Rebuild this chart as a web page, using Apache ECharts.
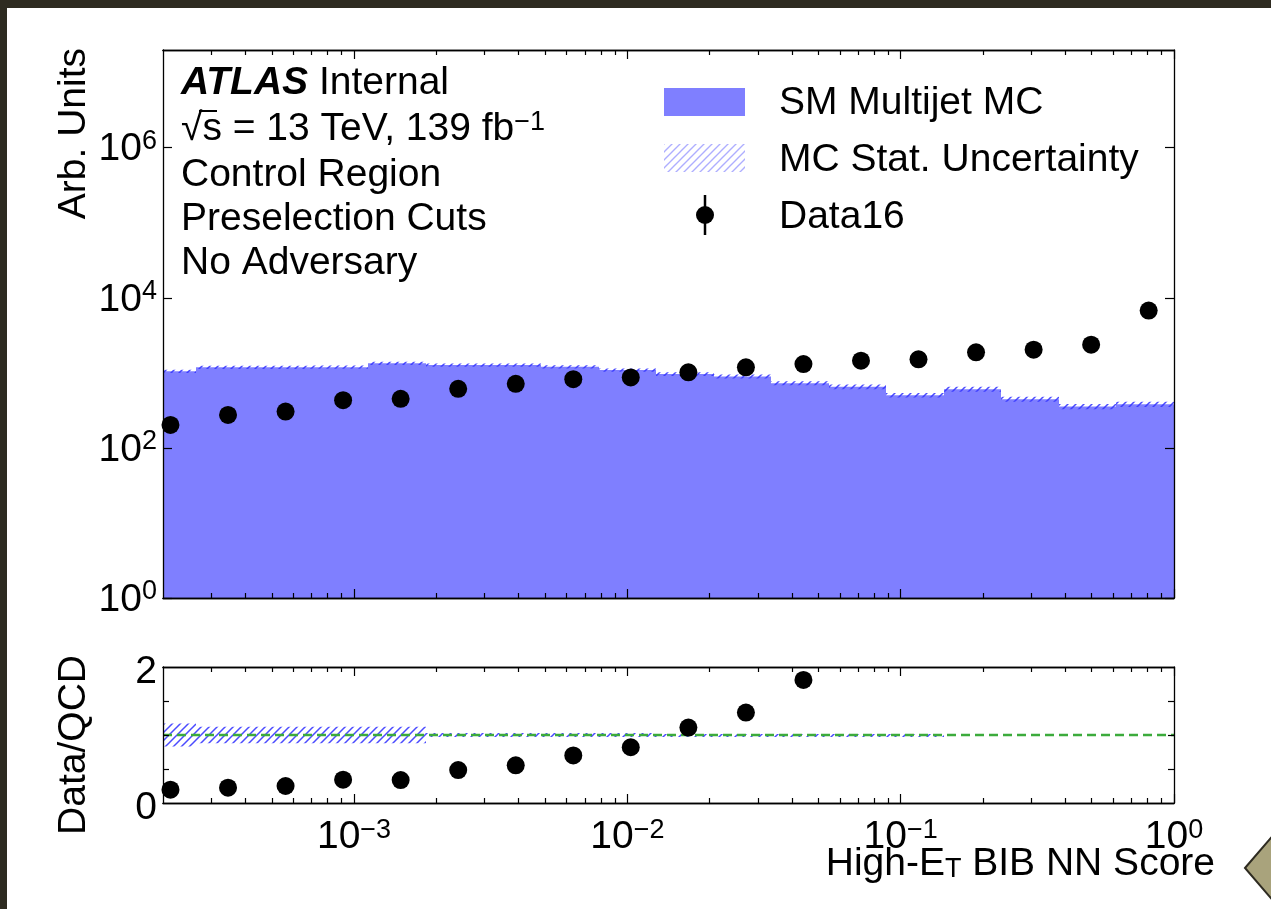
<!DOCTYPE html>
<html><head><meta charset="utf-8">
<script src="https://cdn.jsdelivr.net/npm/echarts@6/dist/echarts.min.js"></script>
<style>
html,body{margin:0;padding:0;background:#2e2b21;overflow:hidden;width:1271px;height:909px}
#paper{position:absolute;left:7px;top:8px;right:0;bottom:0;background:#fff}
#chart{position:absolute;left:0;top:0;width:1271px;height:909px}
</style></head><body><div id="paper"></div><div id="chart"></div>
<script>
// ---------------- data ----------------
const X_MIN = 2e-4, X_MAX = 1;
const Y_MIN = 1, Y_MAX = 2e7;
const binEdges = [1.624e-4, 2.637e-4, 4.281e-4, 6.952e-4, 1.129e-3, 1.833e-3, 2.976e-3, 4.833e-3, 7.848e-3,
  1.274e-2, 2.069e-2, 3.360e-2, 5.456e-2, 8.859e-2, 0.1438, 0.2336, 0.3793, 0.6158, 1.0];
const binCenters = [2.13e-4, 3.459e-4, 5.617e-4, 9.12e-4, 1.481e-3, 2.405e-3, 3.905e-3, 6.341e-3, 1.029e-2,
  1.672e-2, 2.715e-2, 4.408e-2, 7.158e-2, 0.1162, 0.1887, 0.3065, 0.4976, 0.8079];
const mcMultijet = [1046, 1185, 1185, 1190, 1337, 1270, 1270, 1205, 1088, 962, 896, 729, 651, 504, 606, 446, 356, 382];
const mcRelUnc   = [0.05, 0.05, 0.05, 0.05, 0.05, 0.05, 0.05, 0.05, 0.05, 0.06, 0.06, 0.06, 0.07, 0.07, 0.08, 0.08, 0.08, 0.08];
const data16     = [202, 275, 305, 432, 450, 612, 713, 824, 869, 1014, 1183, 1309, 1449, 1514, 1878, 2033, 2373, 6761];
const ratioDataQCD = [0.196, 0.225, 0.25, 0.343, 0.338, 0.485, 0.554, 0.70, 0.82, 1.11, 1.33, 1.81];
const ratioUnc   = [0.17, 0.12, 0.12, 0.12, 0.12, 0.03, 0.03, 0.03, 0.03, 0.015, 0.015, 0.015, 0.015, 0.015, 0, 0, 0, 0];
const xMajorTicks = [1e-3, 1e-2, 1e-1, 1];
const xMinorTicks = [3e-4,4e-4,5e-4,6e-4,7e-4,8e-4,9e-4, 2e-3,3e-3,4e-3,5e-3,6e-3,7e-3,8e-3,9e-3,
  2e-2,3e-2,4e-2,5e-2,6e-2,7e-2,8e-2,9e-2, 0.2,0.3,0.4,0.5,0.6,0.7,0.8,0.9];
const yTopTicks = [1, 1e2, 1e4, 1e6];
const yRatioTicks = [0.5, 1, 1.5];
const yRatioLabels = [0, 2];

// ---------------- style ----------------
const FONT = "'Liberation Sans', Arial, Helvetica, sans-serif";
const FS = 39;
const FS_SUP = 27;
const FILL = '#7f7fff';

function makeHatch(color, step, lw) {
  const c = document.createElement('canvas');
  c.width = step; c.height = step;
  const g = c.getContext('2d');
  g.strokeStyle = color; g.lineWidth = lw; g.lineCap = 'square';
  g.beginPath();
  g.moveTo(-1, step + 1); g.lineTo(step + 1, -1);
  g.moveTo(-step / 2 - 1, step / 2 + 1); g.lineTo(step / 2 + 1, -step / 2 - 1);
  g.moveTo(step / 2 - 1, step * 1.5 + 1); g.lineTo(step * 1.5 + 1, step / 2 - 1);
  g.stroke();
  return c;
}
const hatchPlot = { image: makeHatch('rgba(55,55,255,0.9)', 8, 1.5), repeat: 'repeat' };
const hatchLegend = { image: makeHatch('rgba(120,120,255,0.6)', 8, 1.4), repeat: 'repeat' };

const richLabel = {
  b: { fontSize: FS, lineHeight: 40, fontFamily: FONT, color: '#000' },
  e: { fontSize: FS_SUP, lineHeight: 18, fontFamily: FONT, color: '#000', verticalAlign: 'top' }
};
const richLabelY = {
  b: { fontSize: FS, lineHeight: 40, fontFamily: FONT, color: '#000', padding: [4, 0, 0, 0] },
  e: { fontSize: FS_SUP, lineHeight: 18, fontFamily: FONT, color: '#000', verticalAlign: 'top' }
};
function powLabel(v) {
  const e = Math.round(Math.log10(v));
  const s = e < 0 ? '\u2212' + (-e) : String(e);
  return '{b|10}{e|' + s + '}';
}

function xAx(grid, pos, ticks, len, label) {
  return {
    type: 'log', logBase: 10, gridIndex: grid, position: pos, min: X_MIN, max: X_MAX, z: 6,
    axisLine: { show: true, onZero: false, lineStyle: { color: '#000', width: 1.3 } },
    axisTick: { show: true, inside: true, length: len, customValues: ticks, lineStyle: { color: '#000', width: 1.2 } },
    axisLabel: label || { show: false },
    splitLine: { show: false }, minorTick: { show: false }, minorSplitLine: { show: false }
  };
}

const xAxes = [
  xAx(0, 'bottom', xMajorTicks, 9), xAx(0, 'bottom', xMinorTicks, 5),
  xAx(0, 'top', xMajorTicks, 9), xAx(0, 'top', xMinorTicks, 5),
  xAx(1, 'bottom', xMajorTicks, 9, { show: true, customValues: xMajorTicks, formatter: powLabel, margin: 14, rich: richLabel }),
  xAx(1, 'bottom', xMinorTicks, 5),
  xAx(1, 'top', xMajorTicks, 9), xAx(1, 'top', xMinorTicks, 5)
];

function yAxTop(pos, label) {
  return {
    type: 'log', logBase: 10, gridIndex: 0, position: pos, min: Y_MIN, max: Y_MAX, z: 6,
    axisLine: { show: true, onZero: false, lineStyle: { color: '#000', width: 1.3 } },
    axisTick: { show: true, inside: true, length: 9, customValues: yTopTicks, lineStyle: { color: '#000', width: 1.2 } },
    axisLabel: label || { show: false },
    splitLine: { show: false }
  };
}
function yAxRatio(pos, label) {
  return {
    type: 'value', gridIndex: 1, position: pos, min: 0, max: 2, z: 6,
    axisLine: { show: true, onZero: false, lineStyle: { color: '#000', width: 1.3 } },
    axisTick: { show: true, inside: true, length: 6, customValues: yRatioTicks, lineStyle: { color: '#000', width: 1.2 } },
    axisLabel: label || { show: false },
    splitLine: { show: false }
  };
}
const yAxes = [
  yAxTop('left', { show: true, customValues: yTopTicks, formatter: powLabel, margin: 6, rich: richLabelY }),
  yAxTop('right'),
  yAxRatio('left', { show: true, customValues: yRatioLabels, margin: 6, formatter: v => '{n|' + v + '}',
    rich: { n: { fontSize: FS, lineHeight: 40, fontFamily: FONT, color: '#000', padding: [10, 0, 0, 0] } } }),
  yAxRatio('right')
];

// ---------------- series ----------------
const binData = mcMultijet.map((v, i) => [binEdges[i], binEdges[i + 1], v, mcRelUnc[i]]);
const ratioBandData = ratioUnc.map((u, i) => [binEdges[i], binEdges[i + 1], u]).filter(d => d[2] > 0);

const series = [
  { // MC histogram fill
    type: 'custom', xAxisIndex: 0, yAxisIndex: 0, clip: true, z: 1, silent: true,
    data: binData, encode: { x: [0, 1], y: 2 },
    renderItem: (params, api) => {
      const p0 = api.coord([api.value(0), api.value(2)]);
      const p1 = api.coord([api.value(1), Y_MIN]);
      const x0 = Math.round(p0[0]), x1 = Math.round(p1[0]);
      return { type: 'rect', shape: { x: x0, y: p0[1], width: x1 - x0, height: p1[1] - p0[1] }, style: { fill: FILL } };
    }
  },
  { // MC stat band
    type: 'custom', xAxisIndex: 0, yAxisIndex: 0, clip: true, z: 2, silent: true,
    data: binData, encode: { x: [0, 1], y: 2 },
    renderItem: (params, api) => {
      const v = api.value(2), u = api.value(3);
      const p0 = api.coord([api.value(0), v * (1 + u)]);
      const p1 = api.coord([api.value(1), v * (1 - u)]);
      const x0 = Math.round(p0[0]), x1 = Math.round(p1[0]);
      return { type: 'rect', shape: { x: x0, y: p0[1], width: x1 - x0, height: p1[1] - p0[1] }, style: { fill: hatchPlot } };
    }
  },
  { // data points
    type: 'scatter', xAxisIndex: 0, yAxisIndex: 0, z: 5, silent: true,
    symbol: 'circle', symbolSize: 18, itemStyle: { color: '#000', opacity: 1 },
    data: data16.map((v, i) => [binCenters[i], v])
  },
  { // ratio band
    type: 'custom', xAxisIndex: 4, yAxisIndex: 2, clip: true, z: 2, silent: true,
    data: ratioBandData, encode: { x: [0, 1], y: 2 },
    renderItem: (params, api) => {
      const u = api.value(2);
      const p0 = api.coord([api.value(0), 1 + u]);
      const p1 = api.coord([api.value(1), 1 - u]);
      const x0 = Math.round(p0[0]), x1 = Math.round(p1[0]);
      return { type: 'rect', shape: { x: x0, y: p0[1], width: x1 - x0, height: Math.max(p1[1] - p0[1], 3) }, style: { fill: hatchPlot } };
    }
  },
  { // unity line
    type: 'line', xAxisIndex: 4, yAxisIndex: 2, z: 3, silent: true, symbol: 'none',
    data: [[X_MIN, 1], [X_MAX, 1]],
    lineStyle: { color: '#3cab3c', width: 2.5, type: [9, 5] }
  },
  { // ratio points
    type: 'scatter', xAxisIndex: 4, yAxisIndex: 2, z: 5, silent: true,
    symbol: 'circle', symbolSize: 18, itemStyle: { color: '#000', opacity: 1 },
    data: ratioDataQCD.map((v, i) => [binCenters[i], v])
  }
];

// ---------------- text / legend ----------------
const txt = (x, y, text, extra) => ({
  type: 'text', x: x, y: y, z: 20, silent: true,
  style: Object.assign({ text: text, fontSize: FS, fontFamily: FONT, fill: '#000', verticalAlign: 'middle', align: 'left' }, extra || {})
});
const graphic = [
  txt(181, 83, '{bi|ATLAS} Internal', { rich: { bi: { fontSize: FS, fontFamily: FONT, fontWeight: 'bold', fontStyle: 'italic' } } }),
  txt(181, 129, '\u221As = 13 TeV, 139 fb{s|\u22121}', { rich: { s: { fontSize: FS_SUP, fontFamily: FONT, verticalAlign: 'top', lineHeight: 18 } } }),
  { type: 'line', z: 20, silent: true, shape: { x1: 199, y1: 111, x2: 217, y2: 111 }, style: { stroke: '#000', lineWidth: 2 } },
  txt(181, 175, 'Control Region'),
  txt(181, 219, 'Preselection Cuts'),
  txt(181, 263, 'No Adversary'),
  // legend
  { type: 'rect', z: 20, silent: true, shape: { x: 664, y: 88, width: 81, height: 28 }, style: { fill: FILL } },
  { type: 'rect', z: 20, silent: true, shape: { x: 664, y: 144, width: 81, height: 28 }, style: { fill: hatchLegend } },
  { type: 'line', z: 20, silent: true, shape: { x1: 705, y1: 195, x2: 705, y2: 235 }, style: { stroke: '#000', lineWidth: 2.5 } },
  { type: 'circle', z: 21, silent: true, shape: { cx: 705, cy: 215, r: 9 }, style: { fill: '#000' } },
  txt(779, 103, 'SM Multijet MC'),
  txt(779, 160, 'MC Stat. Uncertainty'),
  txt(779, 217, 'Data16'),
  // axis titles
  txt(74, 48, 'Arb. Units', { align: 'right' }),
  txt(74, 655, 'Data/QCD', { align: 'right' }),
  txt(1215, 864, 'High-E{s|T} BIB NN Score', { align: 'right', rich: { s: { fontSize: FS_SUP, fontFamily: FONT, verticalAlign: 'bottom', lineHeight: 14 } } }),
  // corner decoration
  { type: 'polygon', z: 30, silent: true, shape: { points: [[1245, 868], [1275, 833], [1275, 903]] }, style: { fill: '#a9a37c', stroke: '#2e2b21', lineWidth: 2 } }
];
graphic[13].rotation = Math.PI / 2;
graphic[14].rotation = Math.PI / 2;

const chart = echarts.init(document.getElementById('chart'), null, { renderer: 'canvas' });
chart.setOption({
  animation: false,
  backgroundColor: 'transparent',
  grid: [
    { left: 163, top: 50, width: 1011, height: 548, containLabel: false },
    { left: 163, top: 667, width: 1011, height: 136, containLabel: false }
  ],
  xAxis: xAxes,
  yAxis: yAxes,
  series: series,
  graphic: graphic
});
</script></body></html>
